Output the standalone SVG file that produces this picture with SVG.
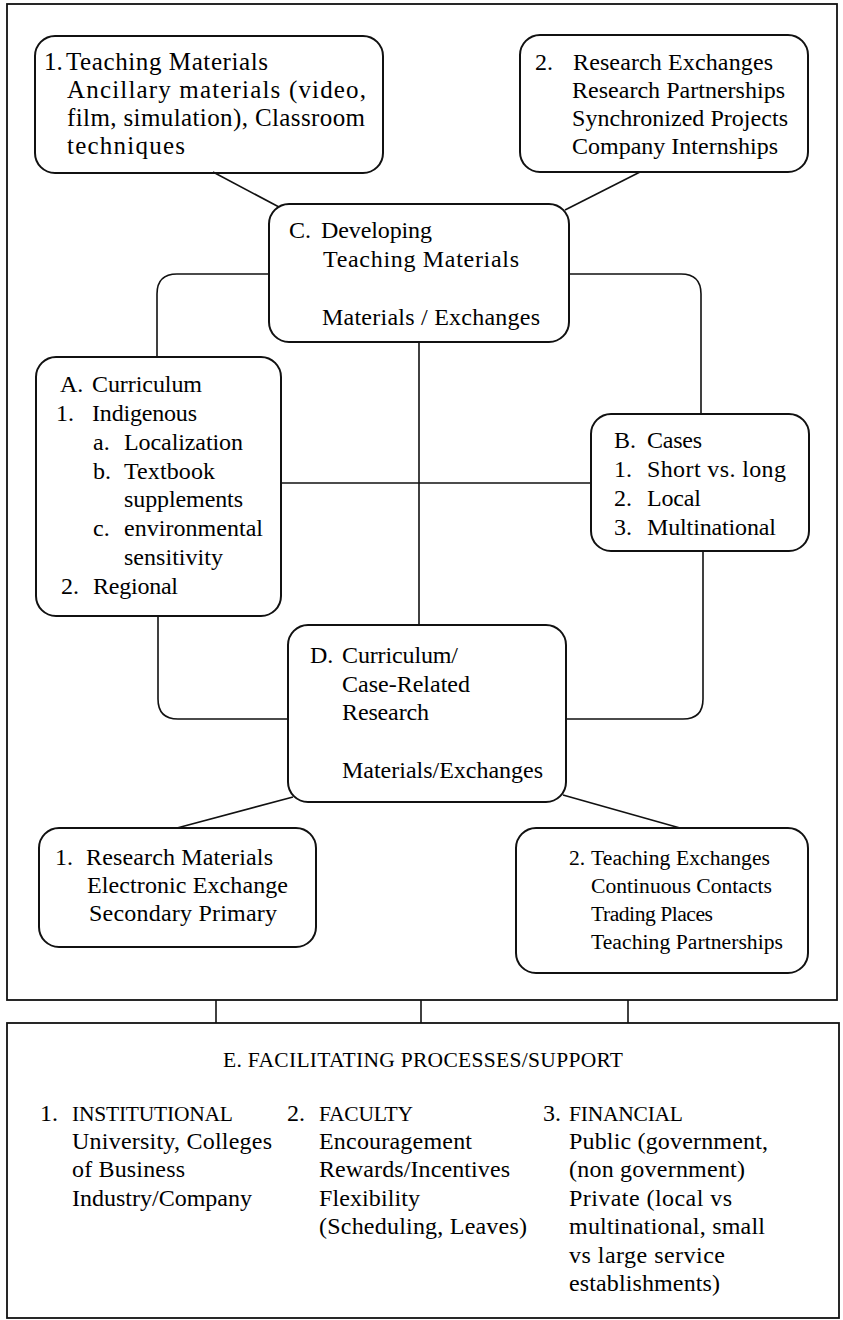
<svg xmlns="http://www.w3.org/2000/svg" width="843" height="1320" viewBox="0 0 843 1320">
<style>
text{font-family:"Liberation Serif","Times New Roman",serif;font-size:24px;fill:#000}
.big{font-size:25px}
.small{font-size:21.6px}
.caps{font-size:21.5px}
.box{fill:none;stroke:#111;stroke-width:2}
.frame{fill:none;stroke:#111;stroke-width:1.8}
.con{fill:none;stroke:#111;stroke-width:1.6}
</style>
<rect x="0" y="0" width="843" height="1320" fill="#fff"/>
<rect id="outer-frame" class="frame" x="7" y="4" width="830" height="996"/>
<g id="connectors">
<line class="con" x1="213" y1="172" x2="279" y2="207"/>
<line class="con" x1="640" y1="172" x2="565" y2="210"/>
<path class="con" d="M269,274 H177 Q157,274 157,294 V357"/>
<path class="con" d="M569,274 H681 Q701,274 701,294 V414"/>
<path class="con" d="M281,483 H591"/>
<path class="con" d="M419,342 V625"/>
<path class="con" d="M158,616 V699 Q158,719 178,719 H288"/>
<path class="con" d="M703,551 V699 Q703,719 683,719 H566"/>
<line class="con" x1="293" y1="797" x2="177" y2="828"/>
<line class="con" x1="563" y1="795" x2="680" y2="828"/>
<line class="con" x1="216" y1="1000" x2="216" y2="1023"/>
<line class="con" x1="421" y1="1000" x2="421" y2="1023"/>
<line class="con" x1="628" y1="1000" x2="628" y2="1023"/>
</g>
<g id="node-teaching-materials">
<rect class="box" x="35" y="36" width="348" height="137" rx="20"/>
<text class="big" x="44" y="70">1.</text>
<text class="big" x="66" y="70" textLength="202">Teaching Materials</text>
<text class="big" x="67" y="98" textLength="299">Ancillary  materials (video,</text>
<text class="big" x="67" y="126" textLength="298">film, simulation), Classroom</text>
<text class="big" x="67" y="154" textLength="118">techniques</text>
</g>
<g id="node-research-exchanges">
<rect class="box" x="520" y="35" width="288" height="137" rx="20"/>
<text x="535" y="70">2.</text>
<text x="573" y="70" textLength="200">Research Exchanges</text>
<text x="572" y="98" textLength="213">Research Partnerships</text>
<text x="572" y="126" textLength="216">Synchronized Projects</text>
<text x="572" y="154" textLength="206">Company Internships</text>
</g>
<g id="node-c">
<rect class="box" x="269" y="204" width="300" height="138" rx="20"/>
<text x="289" y="238">C.</text>
<text x="321" y="238" textLength="111">Developing</text>
<text x="323" y="267" textLength="196">Teaching  Materials</text>
<text x="322" y="325" textLength="218">Materials / Exchanges</text>
</g>
<g id="node-a">
<rect class="box" x="36" y="357" width="245" height="259" rx="20"/>
<text x="60" y="392">A.</text>
<text x="92" y="392" textLength="110">Curriculum</text>
<text x="56" y="421">1.</text>
<text x="92" y="421" textLength="105">Indigenous</text>
<text x="93" y="450">a.</text>
<text x="124" y="450" textLength="119">Localization</text>
<text x="93" y="479">b.</text>
<text x="124" y="479" textLength="91">Textbook</text>
<text x="124" y="507" textLength="119">supplements</text>
<text x="93" y="536">c.</text>
<text x="124" y="536" textLength="139">environmental</text>
<text x="124" y="565" textLength="99">sensitivity</text>
<text x="61" y="594">2.</text>
<text x="93" y="594" textLength="85">Regional</text>
</g>
<g id="node-b">
<rect class="box" x="591" y="414" width="218" height="137" rx="20"/>
<text x="614" y="448">B.</text>
<text x="647" y="448" textLength="55">Cases</text>
<text x="614" y="477">1.</text>
<text x="647" y="477" textLength="139">Short vs. long</text>
<text x="614" y="506">2.</text>
<text x="647" y="506" textLength="54">Local</text>
<text x="614" y="535">3.</text>
<text x="647" y="535" textLength="129">Multinational</text>
</g>
<g id="node-d">
<rect class="box" x="288" y="625" width="278" height="177" rx="20"/>
<text x="310" y="663">D.</text>
<text x="342" y="663" textLength="116">Curriculum/</text>
<text x="342" y="692" textLength="128">Case-Related</text>
<text x="342" y="720" textLength="87">Research</text>
<text x="342" y="778" textLength="201">Materials/Exchanges</text>
</g>
<g id="node-research-materials">
<rect class="box" x="39" y="828" width="277" height="119" rx="20"/>
<text x="55" y="865">1.</text>
<text x="86" y="865" textLength="187">Research Materials</text>
<text x="87" y="893" textLength="201">Electronic Exchange</text>
<text x="89" y="921" textLength="188">Secondary Primary</text>
</g>
<g id="node-teaching-exchanges">
<rect class="box" x="516" y="828" width="292" height="145" rx="20"/>
<text class="small" x="569" y="865">2.</text>
<text class="small" x="591" y="865" textLength="179">Teaching Exchanges</text>
<text class="small" x="591" y="893" textLength="181">Continuous Contacts</text>
<text class="small" x="591" y="921" textLength="122">Trading Places</text>
<text class="small" x="591" y="949" textLength="192">Teaching Partnerships</text>
</g>
<g id="node-e">
<rect class="frame" x="7" y="1023" width="832" height="295"/>
<text class="caps" x="223" y="1067" textLength="400">E. FACILITATING PROCESSES/SUPPORT</text>
<text x="40" y="1121">1.</text>
<text class="caps" x="72" y="1121" textLength="161">INSTITUTIONAL</text>
<text x="72" y="1149" textLength="200">University, Colleges</text>
<text x="72" y="1177" textLength="113">of Business</text>
<text x="72" y="1206" textLength="180">Industry/Company</text>
<text x="287" y="1121">2.</text>
<text class="caps" x="319" y="1121" textLength="94">FACULTY</text>
<text x="319" y="1149" textLength="153">Encouragement</text>
<text x="319" y="1177" textLength="191">Rewards/Incentives</text>
<text x="319" y="1206" textLength="101">Flexibility</text>
<text x="319" y="1234" textLength="208">(Scheduling, Leaves)</text>
<text x="543" y="1121">3.</text>
<text class="caps" x="569" y="1121" textLength="114">FINANCIAL</text>
<text x="569" y="1149" textLength="199">Public (government,</text>
<text x="569" y="1177" textLength="176">(non government)</text>
<text x="569" y="1206" textLength="163">Private (local vs</text>
<text x="569" y="1234" textLength="196">multinational, small</text>
<text x="569" y="1263" textLength="156">vs large service</text>
<text x="569" y="1291" textLength="151">establishments)</text>
</g>
</svg>
